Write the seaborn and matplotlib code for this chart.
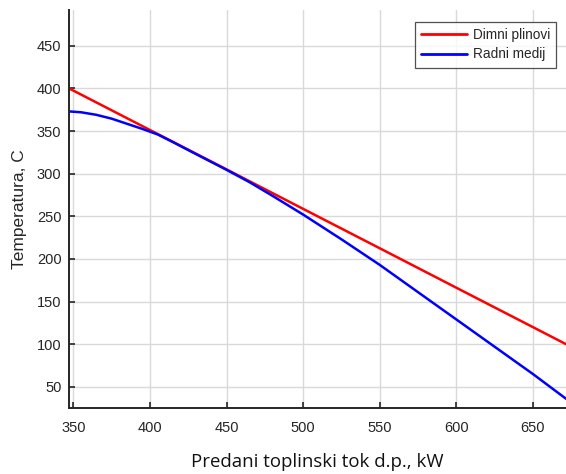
import numpy as np
import pandas as pd
import matplotlib.pyplot as plt
import seaborn as sns

# values
x_red = [347.2, 400, 450, 500, 550, 600, 650, 671.6]
t_red = [400.0, 351.2, 305.0, 258.7, 212.5, 166.2, 120.0, 100.0]

x_blue = [347.2, 355, 365, 375, 385, 395, 405, 415, 430, 450, 465, 480, 500,
          525, 550, 575, 600, 625, 650, 671.6]
t_blue = [373, 372, 369, 364.5, 358.5, 352.5, 346, 337, 323, 304.5, 290, 274, 252,
          223, 193, 161, 129, 97, 65, 36]

names = ['Dimni plinovi', 'Radni medij']

df = pd.concat([
    pd.DataFrame({'Q': x_red, 'T': t_red, 'serija': names[0]}),
    pd.DataFrame({'Q': x_blue, 'T': t_blue, 'serija': names[1]}),
])

sns.set_style('ticks')
plt.rcParams['font.family'] = ['Liberation Sans', 'DejaVu Sans']

fig = plt.figure(figsize=(5.66, 4.74), dpi=100)
ax = fig.add_axes([0.122, 0.139, 0.878, 0.84])

sns.lineplot(ax=ax, data=df, x='Q', y='T', hue='serija', hue_order=names,
             palette={names[0]: '#ff0000', names[1]: '#0000ff'}, linewidth=1.8,
             sort=False, estimator=None)

ax.set_xlim(347.2, 671.6)
ax.set_ylim(25, 492)
ax.set_xticks([350, 400, 450, 500, 550, 600, 650])
ax.set_yticks([50, 100, 150, 200, 250, 300, 350, 400, 450])
ax.grid(True, color='#d9d9d9', linewidth=1.0)
ax.set_axisbelow(True)

for s in ['top', 'right']:
    ax.spines[s].set_visible(False)
for s in ['left', 'bottom']:
    ax.spines[s].set_linewidth(1.4)
    ax.spines[s].set_color('#262626')

ax.tick_params(direction='in', length=4, width=1.2, colors='#262626',
               labelsize=10.5)
ax.tick_params(axis='x', pad=9)
ax.tick_params(axis='y', pad=5.5)

ax.set_ylabel('Temperatura, C', fontsize=12.5, color='#262626', labelpad=7)
ax.set_xlabel('Predani toplinski tok d.p., kW', fontsize=13.4, color='#111111',
              family='Open Sans', labelpad=13)

leg = ax.legend(loc='upper right', bbox_to_anchor=(0.98, 0.97), fontsize=9.8,
                frameon=True, fancybox=False, handlelength=3.4,
                borderpad=0.45, labelspacing=0.4, handletextpad=0.4,
                borderaxespad=0)
leg.get_frame().set_edgecolor('#262626')
leg.get_frame().set_linewidth(0.9)
for h in leg.get_lines():
    h.set_linewidth(2)

fig.savefig('out.png', dpi=100)
